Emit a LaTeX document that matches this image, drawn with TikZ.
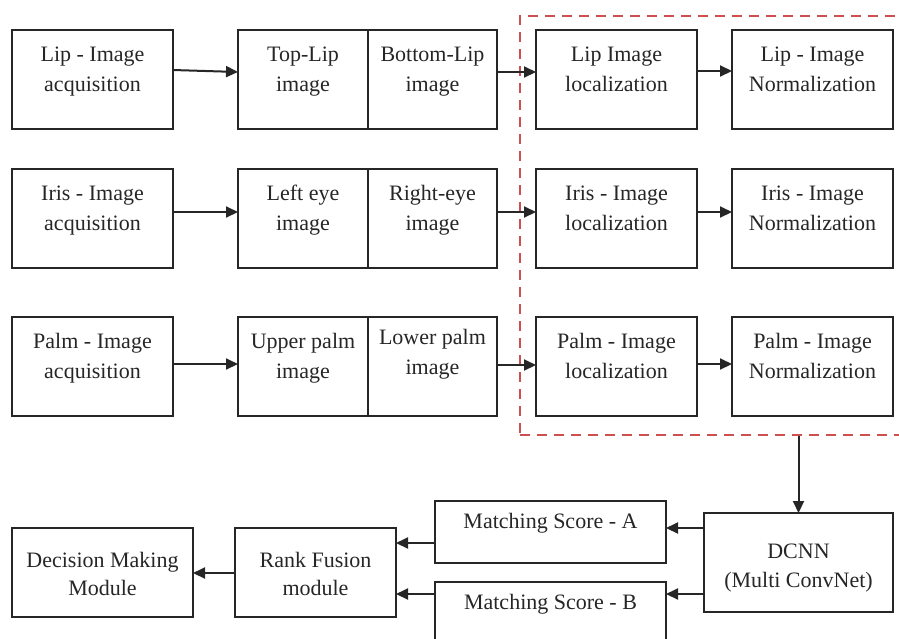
\documentclass[tikz,border=0pt]{standalone}
\usepackage{fontspec}
\setmainfont{Liberation Serif}
\newfontfamily\boxfont{Liberation Serif}
\usetikzlibrary{arrows.meta}
\definecolor{framered}{RGB}{204,80,80}
\newcommand{\bt}[5][30pt]{\vbox to #3{\hsize=#2\relax\parindent=0pt\centering\baselineskip=#1\relax\lineskiplimit=-100pt\leavevmode\vrule height #4 width 0pt\relax #5\par\vss}}
\begin{document}
\begin{tikzpicture}[x=1pt,y=-1pt,
  box/.style={draw=black!85, line width=2pt, inner sep=0pt, outer sep=0pt, anchor=north west, text=black!85, font=\boxfont\fontsize{22}{30}\selectfont},
  arr/.style={draw=black!85, line width=2pt, -{Triangle[length=12pt,width=11pt]}},
  frame/.style={draw=framered, line width=2.4pt, dash pattern=on 10pt off 7pt, anchor=north west, minimum width=420pt, minimum height=419pt, inner sep=0pt}]
\useasboundingbox (0,0) rectangle (899,638);
% row 1
\node[box] (lipacq) at (12,30) {\bt{161pt}{99pt}{31pt}{Lip - Image\\acquisition}};
\node[box] (toplip) at (238,30) {\bt{130pt}{99pt}{31pt}{Top-Lip\\image}};
\node[box] (botlip) at (368,30) {\bt{129pt}{99pt}{31pt}{Bottom-Lip\\image}};
\node[box] (liploc) at (536,30) {\bt{161pt}{99pt}{31pt}{Lip Image\\localization}};
\node[box] (lipnorm) at (732,30) {\bt{161pt}{99pt}{31pt}{Lip - Image\\Normalization}};
% row 2
\node[box] (irisacq) at (12,169) {\bt{161pt}{99pt}{31pt}{Iris - Image\\acquisition}};
\node[box] (lefteye) at (238,169) {\bt{130pt}{99pt}{31pt}{Left eye\\image}};
\node[box] (righteye) at (368,169) {\bt{129pt}{99pt}{31pt}{Right-eye\\image}};
\node[box] (irisloc) at (536,169) {\bt{161pt}{99pt}{31pt}{Iris - Image\\localization}};
\node[box] (irisnorm) at (732,169) {\bt{161pt}{99pt}{31pt}{Iris - Image\\Normalization}};
% row 3
\node[box] (palmacq) at (12,317) {\bt{161pt}{99pt}{31pt}{Palm - Image\\acquisition}};
\node[box] (upperpalm) at (238,317) {\bt{130pt}{99pt}{31pt}{Upper palm\\image}};
\node[box] (lowerpalm) at (368,317) {\bt{129pt}{99pt}{27pt}{Lower palm\\image}};
\node[box] (palmloc) at (536,317) {\bt{161pt}{99pt}{31pt}{Palm - Image\\localization}};
\node[box] (palmnorm) at (732,317) {\bt{161pt}{99pt}{31pt}{Palm - Image\\Normalization}};
% dashed frame
\node[frame] (region) at (519,15) {};
% bottom
\node[box] (dcnn) at (704,513) {\bt[29pt]{189pt}{99pt}{45pt}{DCNN\\(Multi ConvNet)}};
\node[box] (msa) at (435,501) {\bt{231pt}{62pt}{27pt}{Matching Score - A}};
\node[box] (msb) at (435,582) {\bt{231pt}{62pt}{27pt}{Matching Score - B}};
\node[box] (rank) at (235,528) {\bt[28pt]{161pt}{89pt}{39pt}{Rank Fusion\\module}};
\node[box] (dec) at (12,528) {\bt[28pt]{181pt}{89pt}{39pt}{Decision Making\\Module}};
% row arrows
\draw[arr] (lipacq.east |- 0,70) -- (toplip.west |- 0,72);
\draw[arr] (botlip.east |- 0,72) -- (liploc.west |- 0,72);
\draw[arr] (liploc.east |- 0,71) -- (lipnorm.west |- 0,71);
\draw[arr] (irisacq.east |- 0,212) -- (lefteye.west |- 0,212);
\draw[arr] (righteye.east |- 0,212) -- (irisloc.west |- 0,212);
\draw[arr] (irisloc.east |- 0,212) -- (irisnorm.west |- 0,212);
\draw[arr] (palmacq.east |- 0,364) -- (upperpalm.west |- 0,364);
\draw[arr] (lowerpalm.east |- 0,365) -- (palmloc.west |- 0,365);
\draw[arr] (palmloc.east |- 0,364) -- (palmnorm.west |- 0,364);
% bottom arrows
\draw[arr] (region.south -| dcnn.north) -- (dcnn.north);
\draw[arr] (dcnn.west |- 0,528) -- (msa.east |- 0,528);
\draw[arr] (dcnn.west |- 0,594) -- (msb.east |- 0,594);
\draw[arr] (msa.west |- 0,543) -- (rank.east |- 0,543);
\draw[arr] (msb.west |- 0,594) -- (rank.east |- 0,594);
\draw[arr] (rank.west |- 0,573) -- (dec.east |- 0,573);
\end{tikzpicture}
\end{document}
